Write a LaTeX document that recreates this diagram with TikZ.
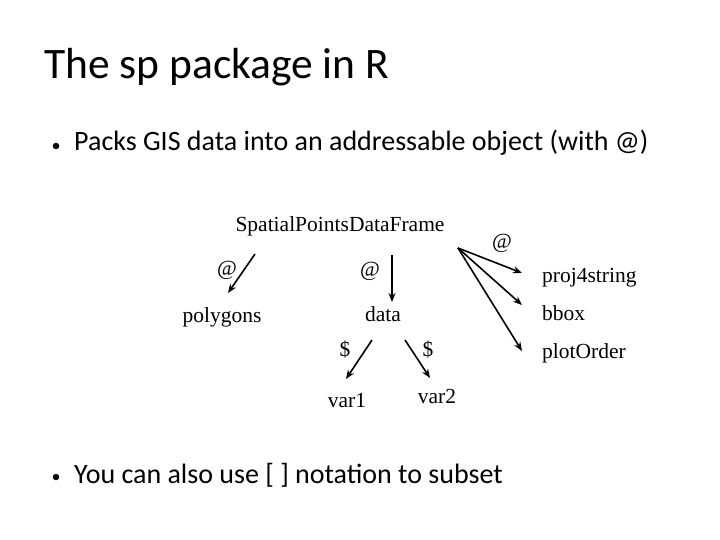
\documentclass[tikz,border=0pt]{standalone}
\usepackage{fontspec}
\setmainfont{Liberation Serif}
\newfontfamily\slidefont{Carlito}
\usetikzlibrary{arrows.meta}
\begin{document}
\begin{tikzpicture}[x=1pt,y=-1pt,
  titletext/.style={font=\slidefont\fontsize{43.5}{50}\selectfont, anchor=base west, inner sep=0},
  bullettext/.style={font=\slidefont\fontsize{28}{32}\selectfont, anchor=base west, inner sep=0},
  dtext/.style={font=\fontsize{21.5}{24}\selectfont, anchor=base, inner sep=0},
  dlabel/.style={font=\fontsize{21.5}{24}\selectfont, anchor=center, inner sep=0},
  darrow/.style={line width=1.6pt, -{Stealth[length=9pt,width=7pt]}},
  bulletdot/.style={circle, fill=black, inner sep=0, minimum size=6.5pt}
]
\useasboundingbox (0,0) rectangle (720,540);
\fill[white] (0,0) rectangle (720,540);

% title and bullets
\node[titletext] (title) at (44,79) {The sp package in R};
\node[bulletdot] (b1) at (56,146) {};
\node[bullettext] (t1) at (74,151) {Packs GIS data into an addressable object (with @)};
\node[bulletdot] (b2) at (56,477) {};
\node[bullettext] (t2) at (74,483) {You can also use [ ] notation to subset};

% diagram texts
\node[dtext] (spdf) at (340,232) {SpatialPointsDataFrame};
\node[dtext] (poly) at (222,322) {polygons};
\node[dtext] (data) at (383,321) {data};
\node[dtext] (var1) at (347,407) {var1};
\node[dtext] (var2) at (437,403) {var2};
\node[dtext, anchor=base west] (proj) at (542,282) {proj4string};
\node[dtext, anchor=base west] (bbox) at (542,320) {bbox};
\node[dtext, anchor=base west] (plot) at (542,358) {plotOrder};

% labels
\node[dlabel] (at1) at (227,270) {@};
\node[dlabel] (at2) at (370,271) {@};
\node[dlabel] (at3) at (502,243) {@};
\node[dlabel] (d1) at (345,350) {\$};
\node[dlabel] (d2) at (428,350) {\$};

% connector end points
\coordinate (s1) at (255,254);
\coordinate (e1) at (228,293);
\coordinate (s2) at (392,255);
\coordinate (e2) at (392,302);
\coordinate (s3) at (372,340);
\coordinate (e3) at (346,379);
\coordinate (s4) at (405,340);
\coordinate (e4) at (430,378);
\coordinate (o) at (458,248);
\coordinate (e5) at (522,273);
\coordinate (e6) at (522,305);
\coordinate (e7) at (522,351);

\draw[darrow] (s1) -- (e1);
\draw[darrow] (s2) -- (e2);
\draw[darrow] (s3) -- (e3);
\draw[darrow] (s4) -- (e4);
\draw[darrow] (o) -- (e5);
\draw[darrow] (o) -- (e6);
\draw[darrow] (o) -- (e7);
\end{tikzpicture}
\end{document}
